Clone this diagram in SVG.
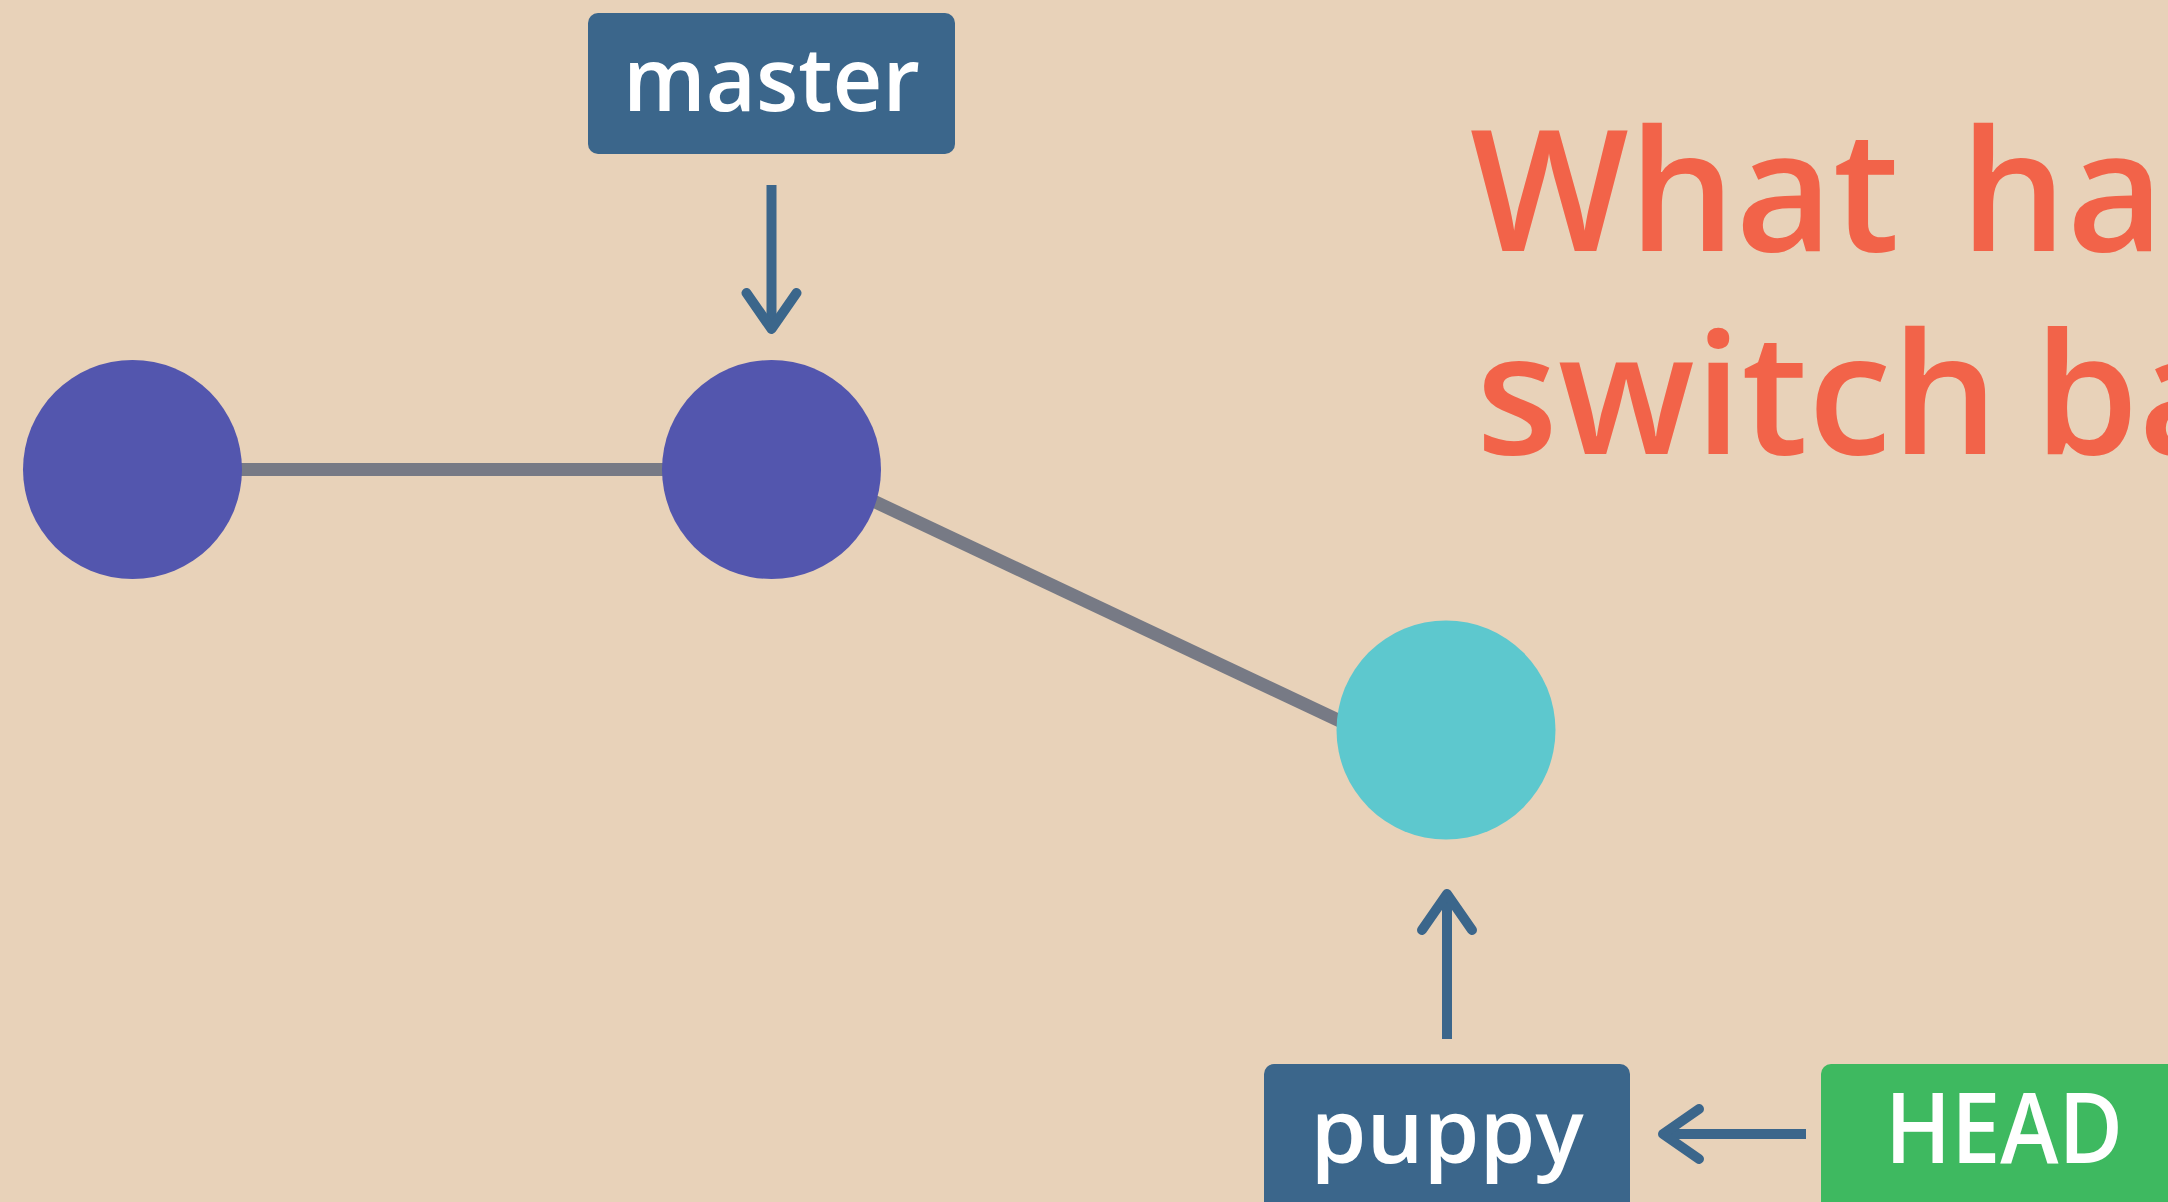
<svg xmlns="http://www.w3.org/2000/svg" width="2168" height="1202" viewBox="0 0 2168 1202">
  <style>
    .commit-old { fill: #5356AE; }
    .commit-new { fill: #5DC8CE; }
    .edge { stroke: #777A85; stroke-width: 13; fill: none; }
    .pointer { stroke: #3B668B; stroke-width: 10; fill: none; }
    .branch { fill: #3B668B; }
    .head { fill: #3EB960; }
    .label { font-family: "Open Sans", "Liberation Sans", Arial, sans-serif; font-weight: 600; fill: #FFFFFF; text-anchor: middle; }
    .title { font-family: "Open Sans", "Liberation Sans", Arial, sans-serif; font-weight: 600; fill: #F26349; font-size: 168px; }
  </style>
  <defs>
    <marker id="chevron" markerUnits="userSpaceOnUse" orient="auto" refX="0" refY="0" markerWidth="80" markerHeight="80" overflow="visible">
      <path d="M-36,-25 L0,0 L-36,25" fill="none" stroke="#3B668B" stroke-width="10" stroke-linecap="round" stroke-linejoin="round"/>
    </marker>
  </defs>

  <rect width="2168" height="1202" fill="#E8D2B9"/>

  <!-- history edges and ref pointers -->
  <g id="connectors">
    <line class="edge" x1="132" y1="469.5" x2="771.5" y2="469.5"/>
    <line class="edge" x1="771.5" y1="453" x2="1446" y2="771"/>
    <line class="pointer" x1="771.5" y1="185" x2="771.5" y2="329" marker-end="url(#chevron)"/>
    <line class="pointer" x1="1447" y1="1039" x2="1447" y2="894" marker-end="url(#chevron)"/>
    <line class="pointer" x1="1806" y1="1134" x2="1663" y2="1134" marker-end="url(#chevron)"/>
  </g>

  <g id="commit-1"><circle class="commit-old" cx="132.5" cy="469.5" r="109.5"/></g>
  <g id="commit-2"><circle class="commit-old" cx="771.5" cy="469.5" r="109.5"/></g>
  <g id="commit-3"><circle class="commit-new" cx="1446" cy="730" r="109.5"/></g>

  <g id="branch-master">
    <rect class="branch" x="588" y="13" width="367" height="141" rx="10"/>
    <text class="label" x="771.5" y="111" font-size="88" textLength="297" lengthAdjust="spacingAndGlyphs">master</text>
  </g>

  <g id="branch-puppy">
    <rect class="branch" x="1264" y="1064" width="366" height="160" rx="10"/>
    <text class="label" x="1447" y="1163" font-size="88" textLength="273" lengthAdjust="spacingAndGlyphs">puppy</text>
  </g>

  <g id="head">
    <rect class="head" x="1821" y="1064" width="380" height="160" rx="10"/>
    <text class="label" x="2004" y="1163" font-size="98" textLength="238" lengthAdjust="spacingAndGlyphs">HEAD</text>
  </g>

  <g id="title">
    <text class="title"><tspan x="1470" y="251">What</tspan><tspan x="1960" y="251">ha</tspan><tspan x="1476" y="454">switch</tspan><tspan x="2034" y="454">ba</tspan></text>
  </g>
</svg>
